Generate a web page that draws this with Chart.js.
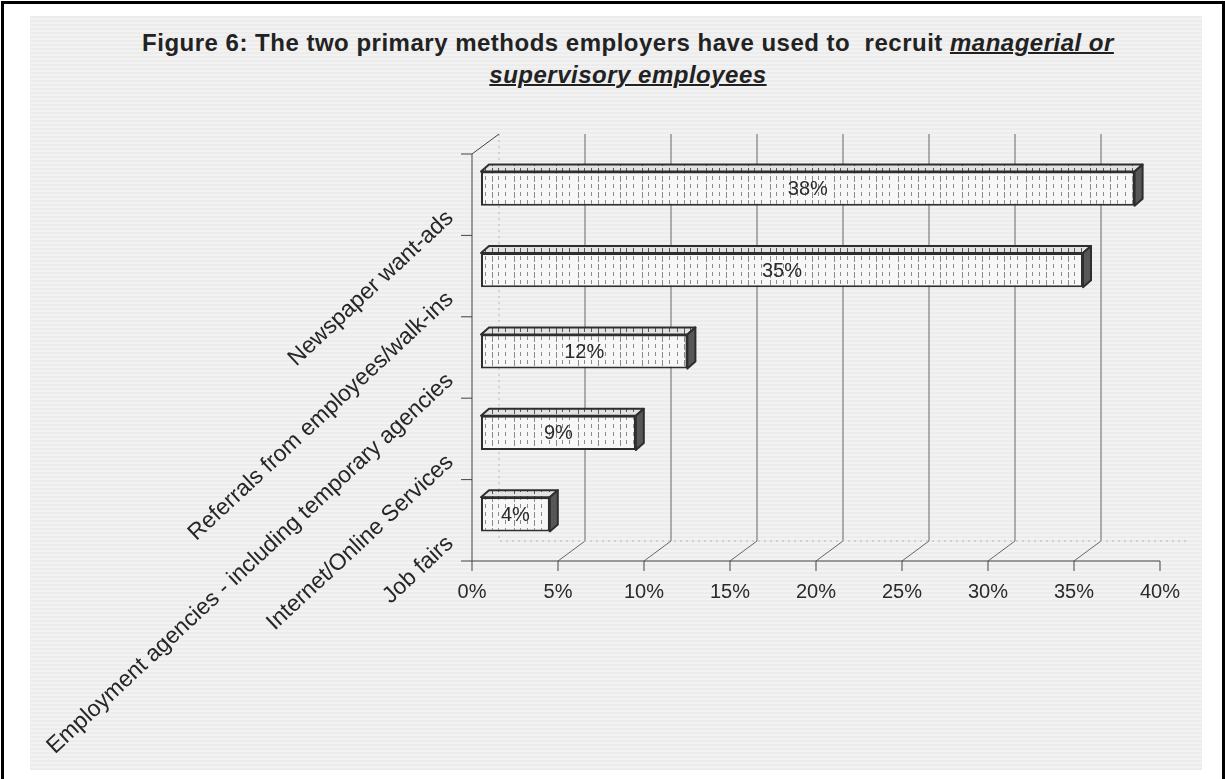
<!DOCTYPE html>
<html lang="en">
<head>
<meta charset="UTF-8">
<title>Figure 6</title>
<script src="https://cdn.jsdelivr.net/npm/chart.js"></script>
<style>
    body { margin: 0; background: #fff; }
    #frame { position: absolute; left: 1px; top: 1px; width: 1218px; height: 800px;
             border: 3px solid #000; border-bottom: none; }
    #paper { position: absolute; left: 30px; top: 16px; width: 1172px; height: 754px;
             background: repeating-linear-gradient(0deg, #ececec 0px, #ececec 2px, #f2f2f2 2px, #f2f2f2 4px); }
    #title { position: absolute; left: 28px; top: 27px; width: 1200px; text-align: center;
             font: bold 24px "Liberation Sans", Arial, sans-serif; letter-spacing: 0.5px;
             line-height: 32px; color: #222; }
    #title .u { font-style: italic; text-decoration: underline; text-decoration-thickness: 2px; }
    #chart { position: absolute; left: 0; top: 0; }
</style>
</head>
<body>
<div id="frame"></div>
<div id="paper"></div>
<div id="title">Figure 6: The two primary methods employers have used to&nbsp; recruit <span class="u">managerial or</span><br><span class="u">supervisory employees</span></div>
<canvas id="chart" width="1225" height="779"></canvas>

<script>
    // datos del grafico
    const categories = [
        'Newspaper want-ads',
        'Referrals from employees/walk-ins',
        'Employment agencies - including temporary agencies',
        'Internet/Online Services',
        'Job fairs'
    ];
    const shares = [38, 35, 12, 9, 4];
    const xTickLabels = ['0%', '5%', '10%', '15%', '20%', '25%', '30%', '35%', '40%'];

    // desplazamientos del efecto 3D (plano frontal y profundidad de barra)
    const FRONT = { x: -9, y: 6 };
    const BAR_DEPTH = { x: 8, y: -7 };

    function stripes(bg, line) {
        const c = document.createElement('canvas');
        c.width = 64; c.height = 8;
        const g = c.getContext('2d');
        g.fillStyle = bg;
        g.fillRect(0, 0, 64, 8);
        g.fillStyle = line;
        [2, 8, 15, 22, 29, 37, 44, 50, 57].forEach((x, i) => {
            g.fillRect(x, 0, 1, i % 3 === 0 ? 6 : 4);
        });
        return g.createPattern(c, 'repeat');
    }

    const walls = {
        id: 'walls',
        beforeDatasetsDraw(chart) {
            const ctx = chart.ctx;
            const xs = chart.scales.x, ys = chart.scales.y;
            const top = ys.top + FRONT.y, bottom = ys.bottom + FRONT.y;
            const left = xs.getPixelForValue(0) + FRONT.x;
            ctx.save();
            ctx.lineWidth = 1;
            ctx.strokeStyle = '#666';
            // lineas del fondo y del piso
            for (let v = 5; v <= 35; v += 5) {
                const fx = xs.getPixelForValue(v) + FRONT.x;
                ctx.beginPath();
                ctx.moveTo(fx, bottom);
                ctx.lineTo(fx + 27, bottom - 20);
                ctx.lineTo(fx + 27, top - 20);
                ctx.stroke();
            }
            ctx.setLineDash([2, 4]);
            ctx.strokeStyle = '#b5b5b5';
            ctx.beginPath();
            ctx.moveTo(left + 27, top - 20);
            ctx.lineTo(left + 27, bottom - 20);
            ctx.lineTo(xs.getPixelForValue(40) + FRONT.x + 27, bottom - 20);
            ctx.stroke();
            ctx.setLineDash([]);
            // eje vertical
            ctx.strokeStyle = '#444';
            ctx.beginPath();
            ctx.moveTo(left + 27, top - 20);
            ctx.lineTo(left, top);
            ctx.lineTo(left, bottom);
            const band = (ys.bottom - ys.top) / categories.length;
            for (let k = 0; k < categories.length; k++) {
                ctx.moveTo(left - 11, top + k * band);
                ctx.lineTo(left, top + k * band);
            }
            // eje horizontal
            ctx.moveTo(left - 11, bottom);
            ctx.lineTo(xs.getPixelForValue(40) + FRONT.x, bottom);
            for (let v = 0; v <= 40; v += 5) {
                const fx = xs.getPixelForValue(v) + FRONT.x;
                ctx.moveTo(fx, bottom);
                ctx.lineTo(fx, bottom + 10);
            }
            ctx.stroke();
            ctx.restore();
        },
        afterDatasetsDraw(chart) {
            const ctx = chart.ctx;
            const meta = chart.getDatasetMeta(0);
            ctx.save();
            ctx.lineWidth = 2;
            ctx.strokeStyle = '#2e2e2e';
            ctx.lineJoin = 'round';
            meta.data.forEach((bar, i) => {
                const p = bar.getProps(['x', 'y', 'base', 'height'], true);
                const t = p.y - p.height / 2, b = p.y + p.height / 2;
                // cara superior
                ctx.fillStyle = stripes('#e2e2e2', '#555');
                ctx.beginPath();
                ctx.moveTo(p.base, t);
                ctx.lineTo(p.base + BAR_DEPTH.x, t + BAR_DEPTH.y);
                ctx.lineTo(p.x + BAR_DEPTH.x, t + BAR_DEPTH.y);
                ctx.lineTo(p.x, t);
                ctx.closePath();
                ctx.fill();
                ctx.stroke();
                // cara lateral
                ctx.fillStyle = '#575757';
                ctx.beginPath();
                ctx.moveTo(p.x, t);
                ctx.lineTo(p.x + BAR_DEPTH.x, t + BAR_DEPTH.y);
                ctx.lineTo(p.x + BAR_DEPTH.x, b + BAR_DEPTH.y);
                ctx.lineTo(p.x, b);
                ctx.closePath();
                ctx.fill();
                ctx.stroke();
                // etiqueta
                ctx.fillStyle = '#2a2a2a';
                ctx.font = '20px "Liberation Sans", Arial, sans-serif';
                ctx.textAlign = 'center';
                ctx.textBaseline = 'middle';
                ctx.fillText(shares[i] + '%', (p.base + p.x) / 2, p.y + 1);
            });
            ctx.restore();
        }
    };

    const ctx = document.getElementById('chart').getContext('2d');
    new Chart(ctx, {
        type: 'bar',
        data: {
            labels: categories,
            datasets: [{
                data: shares,
                backgroundColor: stripes('#f7f7f7', '#8a8a8a'),
                borderColor: '#2e2e2e',
                borderWidth: 2,
                borderSkipped: false,
                barPercentage: 0.42,
                categoryPercentage: 1
            }]
        },
        options: {
            indexAxis: 'y',
            responsive: false,
            animation: false,
            layout: { padding: { left: 0, top: 148, right: 56, bottom: 174 } },
            plugins: {
                legend: { display: false },
                title: { display: false },
                tooltip: { enabled: false }
            },
            scales: {
                x: {
                    min: 0,
                    max: 40,
                    ticks: {
                        stepSize: 5,
                        callback: (v, i) => xTickLabels[i],
                        labelOffset: FRONT.x,
                        padding: 25,
                        color: '#2a2a2a',
                        font: { family: '"Liberation Sans", Arial, sans-serif', size: 20 }
                    },
                    grid: { display: false, drawTicks: false },
                    border: { display: false },
                    afterFit: s => { s.height = 50; }
                },
                y: {
                    ticks: {
                        autoSkip: false,
                        minRotation: 43,
                        maxRotation: 43,
                        labelOffset: 26,
                        padding: 31,
                        color: '#262626',
                        font: { family: '"Liberation Sans", Arial, sans-serif', size: 23 }
                    },
                    grid: { display: false, drawTicks: false },
                    border: { display: false },
                    afterFit: s => { s.width = 481; }
                }
            }
        },
        plugins: [walls]
    });
</script>
</body>
</html>
